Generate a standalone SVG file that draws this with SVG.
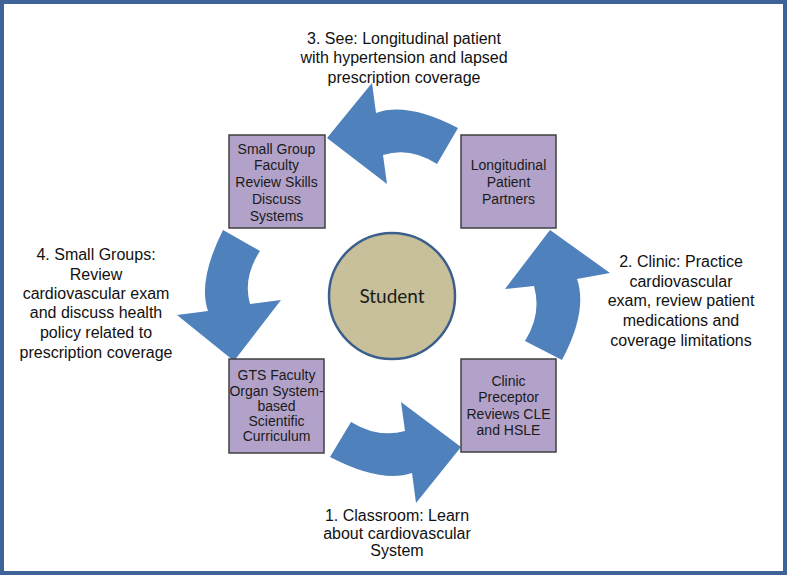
<svg xmlns="http://www.w3.org/2000/svg" width="788" height="575" viewBox="0 0 788 575">
<style>
.frame{fill:#ffffff;stroke:#3e6497;stroke-width:4}
.box{fill:#b2a2c9;stroke:#404040;stroke-width:1.5}
.arrow{fill:#4f81bd;stroke:none}
.lbl{font-family:"Liberation Sans",Arial,sans-serif;font-size:16px;fill:#111111;text-anchor:middle}
.bt{font-family:"Liberation Sans",Arial,sans-serif;font-size:14px;fill:#1a1a1a;text-anchor:middle}
.st{font-family:Lato,"Open Sans",sans-serif;font-size:19px;fill:#1a1a1a;text-anchor:middle}
</style>
<rect class="frame" x="2" y="2" width="783" height="571"/>
<g id="connectors">
<path id="arrow-top" class="arrow" d="M327,138 L372,83 L376,113 Q407,101.5 458,128 L437,164 Q410,146.5 383,155 L387,184 Z"/>
<path id="arrow-left" class="arrow" d="M234,361 L177,315 L208,311 Q197.5,281 223,230 L260,251 Q242.5,278 250,304 L281,300 Z"/>
<path id="arrow-bottom" class="arrow" d="M461,447 L416,503 L412,473 Q381,483.5 330,457 L351,422 Q378,438.5 405,431 L401,402 Z"/>
<path id="arrow-right" class="arrow" d="M550,230 L610,273 L577,279 Q588,311 562,360 L525,341 Q542,314 534,286 L505,289 Z"/>
</g>
<g id="student">
<circle cx="392" cy="296" r="63" fill="#c8c09b" stroke="#3d5f8c" stroke-width="2.5"/>
<text class="st" x="392" y="303">Student</text>
</g>
<g id="small-group">
<rect class="box" x="229" y="135" width="96" height="93"/>
<text class="bt" x="276.5" y="153.5">Small Group</text>
<text class="bt" x="276.5" y="170">Faculty</text>
<text class="bt" x="276.5" y="186.5">Review Skills</text>
<text class="bt" x="276.5" y="204">Discuss</text>
<text class="bt" x="276.5" y="220.5">Systems</text>
</g>
<g id="longitudinal">
<rect class="box" x="461" y="135" width="95" height="93"/>
<text class="bt" x="508.5" y="170">Longitudinal</text>
<text class="bt" x="508.5" y="186.5">Patient</text>
<text class="bt" x="508.5" y="204">Partners</text>
</g>
<g id="gts">
<rect class="box" x="229" y="359" width="95" height="94"/>
<text class="bt" x="276.5" y="380">GTS Faculty</text>
<text class="bt" x="276.5" y="395.5">Organ System-</text>
<text class="bt" x="276.5" y="410.5">based</text>
<text class="bt" x="276.5" y="425.5">Scientific</text>
<text class="bt" x="276.5" y="440.5">Curriculum</text>
</g>
<g id="clinic">
<rect class="box" x="461" y="359" width="95" height="93"/>
<text class="bt" x="508.5" y="386">Clinic</text>
<text class="bt" x="508.5" y="402">Preceptor</text>
<text class="bt" x="508.5" y="418.5">Reviews CLE</text>
<text class="bt" x="508.5" y="435">and HSLE</text>
</g>
<g id="label-3">
<text class="lbl" x="404" y="43.5">3. See: Longitudinal patient</text>
<text class="lbl" x="404" y="63">with hypertension and lapsed</text>
<text class="lbl" x="404" y="82.5">prescription coverage</text>
</g>
<g id="label-4">
<text class="lbl" x="96" y="260">4. Small Groups:</text>
<text class="lbl" x="96" y="280">Review</text>
<text class="lbl" x="96" y="299">cardiovascular exam</text>
<text class="lbl" x="96" y="318">and discuss health</text>
<text class="lbl" x="96" y="338">policy related to</text>
<text class="lbl" x="96" y="358">prescription coverage</text>
</g>
<g id="label-2">
<text class="lbl" x="681" y="267">2. Clinic: Practice</text>
<text class="lbl" x="681" y="287">cardiovascular</text>
<text class="lbl" x="681" y="306">exam, review patient</text>
<text class="lbl" x="681" y="326">medications and</text>
<text class="lbl" x="681" y="346">coverage limitations</text>
</g>
<g id="label-1">
<text class="lbl" x="397" y="521">1. Classroom: Learn</text>
<text class="lbl" x="397" y="539">about cardiovascular</text>
<text class="lbl" x="397" y="556">System</text>
</g>
</svg>
